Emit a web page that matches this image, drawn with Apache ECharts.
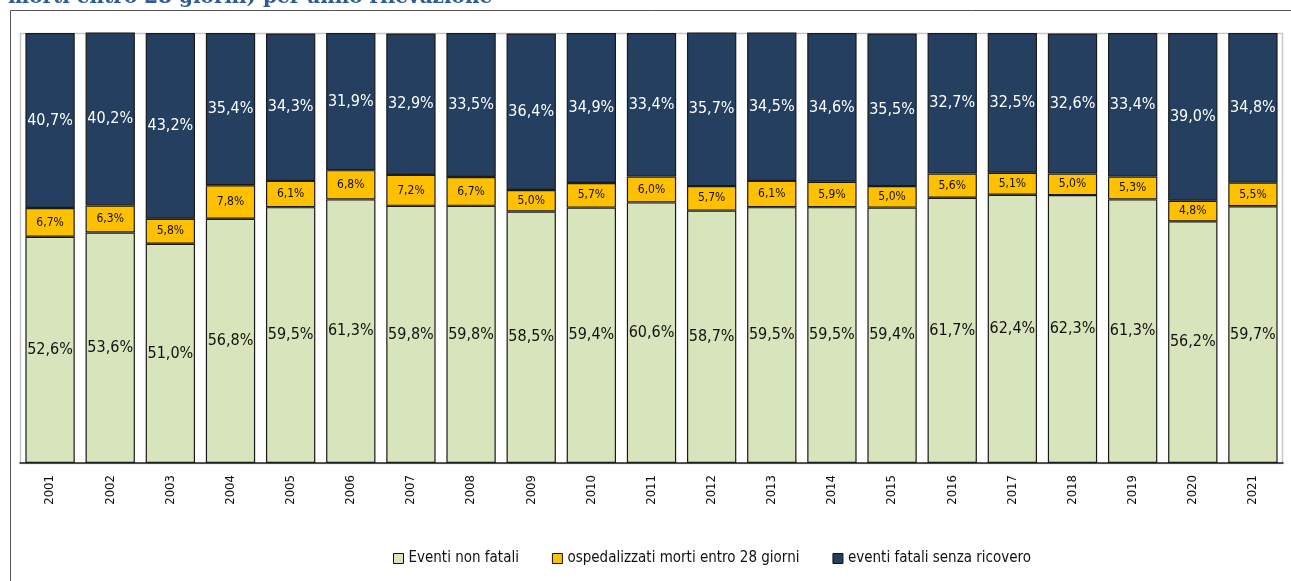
<!DOCTYPE html>
<html>
<head>
<meta charset="utf-8">
<script src="https://cdn.jsdelivr.net/npm/echarts@6/dist/echarts.min.js"></script>
<style>
  html, body { margin: 0; padding: 0; background: #fff; }
  #chart { width: 1291px; height: 581px; }
</style>
</head>
<body>
<div id="chart"></div>
<script>
// Anni di rilevazione
const years = ['2001','2002','2003','2004','2005','2006','2007','2008','2009','2010','2011',
               '2012','2013','2014','2015','2016','2017','2018','2019','2020','2021'];

// Quote percentuali per anno
const nonFatali = [52.6,53.6,51.0,56.8,59.5,61.3,59.8,59.8,58.5,59.4,60.6,
                   58.7,59.5,59.5,59.4,61.7,62.4,62.3,61.3,56.2,59.7];
const ospedalizzatiMorti = [6.7,6.3,5.8,7.8,6.1,6.8,7.2,6.7,5.0,5.7,6.0,
                            5.7,6.1,5.9,5.0,5.6,5.1,5.0,5.3,4.8,5.5];
const fataliSenzaRicovero = [40.7,40.2,43.2,35.4,34.3,31.9,32.9,33.5,36.4,34.9,33.4,
                             35.7,34.5,34.6,35.5,32.7,32.5,32.6,33.4,39.0,34.8];

const seriesNames = ['Eventi non fatali', 'ospedalizzati morti entro 28 giorni', 'eventi fatali senza ricovero'];
const heading = 'morti entro 28 giorni) per anno rilevazione';

const FONT = '"Liberation Sans Narrow", "DejaVu Sans Condensed", sans-serif';
const fmt = p => p.value.toFixed(1).replace('.', ',') + '%';

function bar(name, data, color, textColor, size) {
  return {
    name, type: 'bar', stack: 'tot', data,
    barCategoryGap: '18%',
    itemStyle: { color, borderColor: '#1a1a1a', borderWidth: 1.2 },
    label: { show: true, position: 'inside', formatter: fmt, color: textColor,
             fontFamily: FONT, fontSize: size }
  };
}

const chart = echarts.init(document.getElementById('chart'), null, { renderer: 'canvas' });
chart.setOption({
  animation: false,
  backgroundColor: '#fff',
  graphic: [
    { type: 'text', left: 8, top: -12,
      style: { text: heading, fill: '#2E5C96', font: 'bold 20px "DejaVu Serif", serif' } },
    { type: 'rect', shape: { x: 10.5, y: 10.5, width: 1300, height: 600 },
      style: { fill: 'none', stroke: '#555', lineWidth: 1 }, silent: true },
    { type: 'rect', shape: { x: 20.5, y: 33.5, width: 1262, height: 430 },
      style: { fill: 'none', stroke: '#c8c8c8', lineWidth: 1.5 }, silent: true, z: -1 }
  ],
  grid: { left: 20, right: 8, top: 33, bottom: 118 },
  legend: {
    bottom: 10, left: 388, itemGap: 33, itemWidth: 10, itemHeight: 10,
    icon: 'rect',
    textStyle: { fontFamily: FONT, fontSize: 15, color: '#111' },
    itemStyle: { borderColor: '#111', borderWidth: 1 }
  },
  xAxis: {
    type: 'category', data: years,
    axisLine: { lineStyle: { color: '#222', width: 1.5 } },
    axisTick: { show: false },
    axisLabel: { rotate: 90, margin: 12, fontFamily: FONT, fontSize: 13, color: '#111' }
  },
  yAxis: { type: 'value', min: 0, max: 100, show: false, splitLine: { show: false } },
  series: [
    bar(seriesNames[0], nonFatali, '#D8E4BC', '#111', 16),
    bar(seriesNames[1], ospedalizzatiMorti, '#FFC000', '#111', 12),
    bar(seriesNames[2], fataliSenzaRicovero, '#243F60', '#fff', 16)
  ]
});
</script>
</body>
</html>
